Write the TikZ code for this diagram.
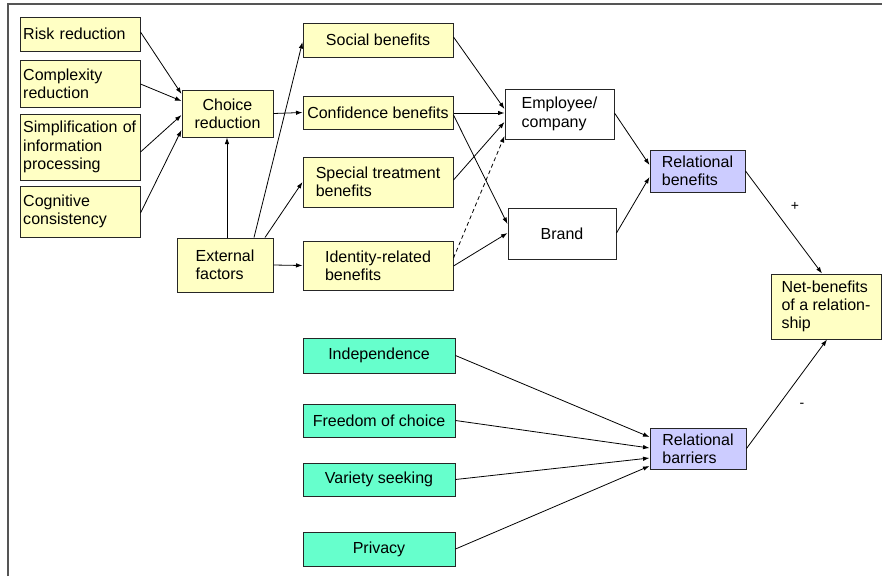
\documentclass[tikz,border=0pt]{standalone}
\usepackage{fontspec}
\setmainfont{Liberation Sans}
\usetikzlibrary{arrows.meta,calc}
\definecolor{yel}{HTML}{FFFFC4}
\definecolor{lav}{HTML}{CCCCFF}
\definecolor{grn}{HTML}{66FFCC}
\definecolor{frm}{HTML}{555555}
\tikzset{
  box/.style={draw=black!85, line width=1pt, rectangle, inner sep=0pt, align=left,
    font=\fontsize{16}{18.3}\selectfont},
  ybox/.style={box, fill=yel},
  lbox/.style={box, fill=lav},
  gbox/.style={box, fill=grn, align=center},
  wbox/.style={box, fill=white},
  leftbox/.style={ybox, text width=113.5pt, inner xsep=3.25pt},
  arr/.style={-{Latex[length=6.5pt,width=4.5pt]}, line width=0.8pt},
  sz/.style n args={2}{minimum width=#1pt, minimum height=#2pt},
  sign/.style={font=\fontsize{14}{16}\selectfont}
}
\begin{document}
\begin{tikzpicture}[x=1pt,y=-1pt]
\useasboundingbox (0,0) rectangle (882,576);
\fill[white] (0,0) rectangle (882,576);
\draw[frm, line width=1.5pt] (8,576) -- (8,4) -- (882,4);

% left column
\node[leftbox, sz={120}{34}] (risk) at (80,34) {Risk reduction};
\node[leftbox, sz={120}{47}] (complex) at (80,83.5) {Complexity\\reduction};
\node[leftbox, sz={120}{66}] (simpl) at (80,147) {Simplification of\\information\\processing};
\node[leftbox, sz={120}{51}] (cogn) at (80,211.5) {Cognitive\\consistency};

\node[ybox, align=center, sz={91}{47}] (choice) at (227.5,113.5) {Choice\\reduction};
\node[ybox, sz={96}{54}] (ext) at (225,265) {External\\factors};

% benefits column
\node[ybox, align=center, sz={150}{34}] (social) at (378,40) {Social benefits};
\node[ybox, align=center, sz={150}{33}] (conf) at (378,112.5) {Confidence benefits};
\node[ybox, sz={150}{50}] (special) at (378,182) {Special treatment\\benefits};
\node[ybox, sz={150}{49}] (ident) at (378,265.5) {Identity-related\\benefits};

\node[wbox, sz={109}{50}] (emp) at (559.5,114) {Employee/\\company};
\node[wbox, align=center, sz={108}{51}] (brand) at (562,233.5) {Brand};

\node[lbox, sz={95}{42}] (relben) at (697.5,171) {Relational\\benefits};
\node[ybox, sz={110}{65}] (net) at (826,306.5) {Net-benefits\\of a relation-\\ship};

% barriers
\node[gbox, sz={152}{35}] (indep) at (379,355.5) {Independence};
\node[gbox, sz={152}{33}] (freedom) at (379,420.5) {Freedom of choice};
\node[gbox, sz={152}{33}] (variety) at (379,479.5) {Variety seeking};
\node[gbox, sz={152}{34}] (privacy) at (379,549) {Privacy};
\node[lbox, sz={96}{41}] (relbar) at (698,448.5) {Relational\\barriers};

% arrows into choice
\draw[arr] ($(risk.east)+(0,-2)$) -- ($(choice.west)+(0,-19.5)$);
\draw[arr] ($(complex.east)+(0,0.5)$) -- ($(choice.west)+(0,-12.5)$);
\draw[arr] ($(simpl.east)+(0,5)$) -- ($(choice.west)+(0,1.5)$);
\draw[arr] ($(cogn.east)+(0,1.5)$) -- ($(choice.west)+(0,16.5)$);
\draw[arr] ($(ext.north)+(2,0)$) -- ($(choice.south)+(-0.5,0)$);

\draw[arr] (choice.east) -- (conf.west);
\draw[arr] ($(ext.north)+(29,0)$) -- ($(social.west)+(0,2)$);
\draw[arr] ($(ext.north)+(40,0)$) -- (special.west);
\draw[arr] (ext.east) -- (ident.west);

% benefits to employee/brand
\draw[arr] ($(social.east)+(0,-3)$) -- ($(emp.west)+(0,-5)$);
\draw[arr] ($(conf.east)+(0,0.5)$) -- ($(emp.west)+(0,-1)$);
\draw[arr] ($(conf.east)+(0,2.5)$) -- ($(brand.west)+(0,-9.5)$);
\draw[arr] ($(special.east)+(0,-2)$) -- ($(emp.west)+(0,8)$);
\draw[arr, dashed, dash pattern=on 4pt off 3pt] ($(ident.east)+(0,-7.5)$) -- ($(emp.west)+(0,22)$);
\draw[arr] ($(ident.east)+(0,0.5)$) -- ($(brand.west)+(0,-0.5)$);

\draw[arr] ($(emp.east)+(0,-1)$) -- ($(relben.west)+(0,-6)$);
\draw[arr] ($(brand.east)+(0,-0.5)$) -- ($(relben.west)+(0,6)$);

\draw[arr] (relben.east) -- ($(net.north)+(-4,0)$);
\draw[arr] (relbar.east) -- ($(net.south)+(1,0)$);

\draw[arr] (indep.east) -- ($(relbar.west)+(0,-11.5)$);
\draw[arr] (freedom.east) -- ($(relbar.west)+(0,-0.5)$);
\draw[arr] (variety.east) -- ($(relbar.west)+(0,9.5)$);
\draw[arr] (privacy.east) -- ($(relbar.west)+(0,17.5)$);

\node[sign] (plus) at (795,206) {+};
\node[sign] (minus) at (802,405) {-};
\end{tikzpicture}
\end{document}
